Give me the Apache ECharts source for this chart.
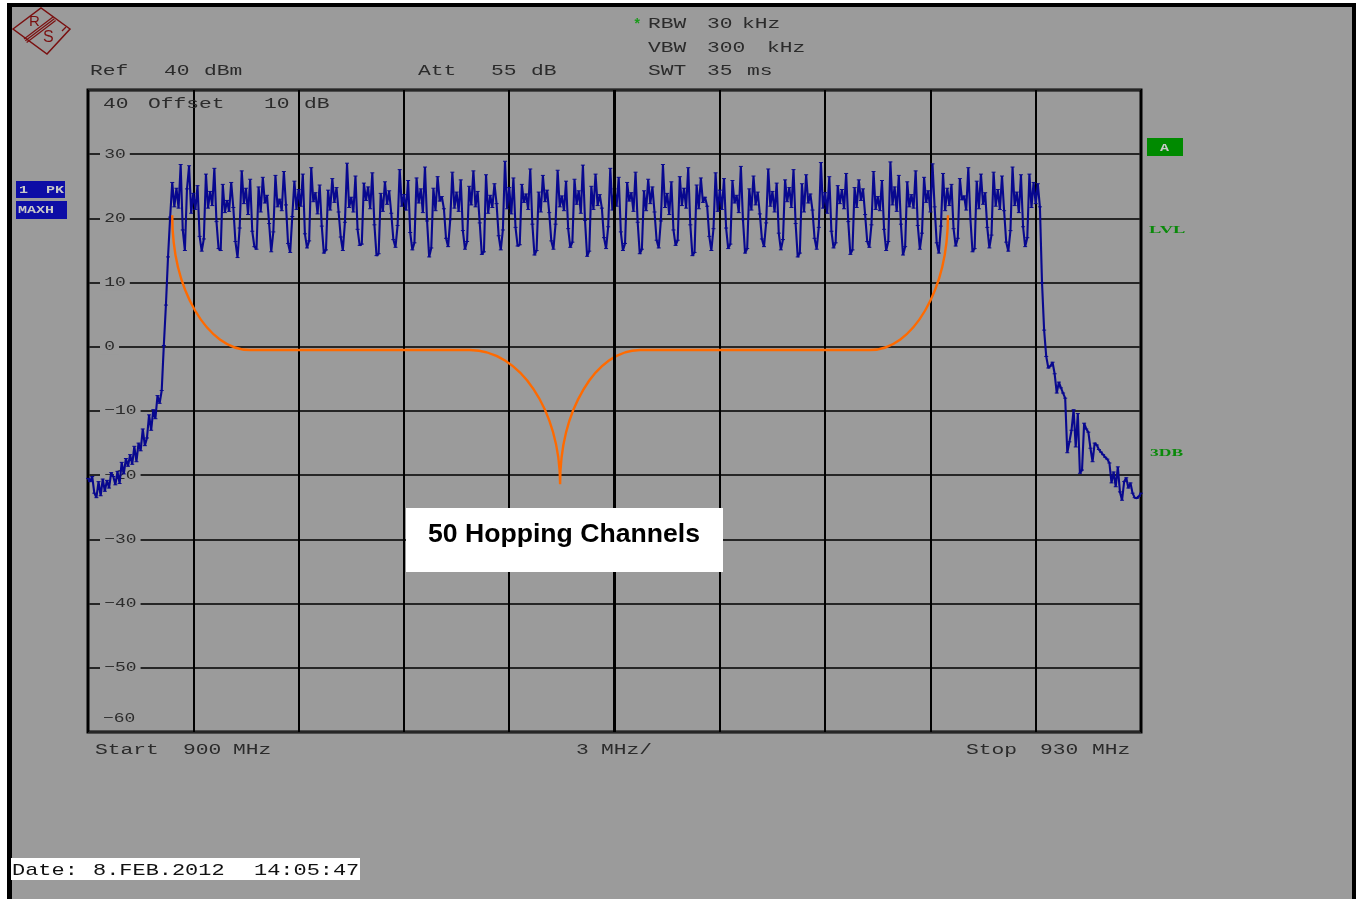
<!DOCTYPE html>
<html>
<head>
<meta charset="utf-8">
<script src="https://cdn.jsdelivr.net/npm/echarts@6/dist/echarts.min.js"></script>
<style>html,body{margin:0;padding:0;background:#fff;}#c{width:1360px;height:899px;}</style>
</head>
<body>
<div id="c"></div>
<script>
// ---- sweep definition ----
const START_MHZ = 900;
const STOP_MHZ = 930;
const DIV_MHZ = 3;
const REF_DBM = 40;
const BOTTOM_DBM = -60;
const DIV_DB = 10;
const CENTER_MHZ = 915;
const Y_TICKS = [30, 20, 10, 0, -10, -20, -30, -40, -50];

// ---- trace 1 (PK, MAXH) levels in dBm ----
const LEVEL_LOWER_SKIRT = [
  -20.5,-21.0,-20.2,-22.8,-23.5,-21.0,-23.2,-20.6,-22.5,-20.8,
  -22.0,-19.6,-20.2,-21.5,-19.4,-21.3,-18.0,-19.8,-17.4,-18.6,
  -16.8,-18.3,-15.5,-17.9,-15.0,-16.2,-12.8,-15.4,-14.2,-10.6,
  -13.0,-9.8,-11.2,-7.6,-8.8,-6.8,0.2,6.5,14.0,20.2,
  25.6
];
const LEVEL_HOP_BAND = [
  21.8, 24.7, 21.6, 28.4, 18.2, 15.0,
  24.6, 28.2, 20.8, 23.9, 21.4, 25.1, 17.2, 14.9,
  16.8, 26.9, 21.6, 24.2, 22.0, 27.8, 19.5, 15.3,
  15.0, 25.3, 20.9, 22.8, 21.1, 25.6, 21.7, 16.4, 13.9,
  18.5, 27.4, 22.3, 24.7, 20.6, 26.1, 18.0, 15.6,
  15.2, 24.9, 21.0, 26.4, 22.4, 23.6, 19.2, 14.8,
  17.9, 26.7, 21.8, 23.0, 21.2, 27.3, 22.1, 16.1, 14.7,
  20.3, 25.8, 21.4, 24.5, 21.9, 26.9, 17.6, 15.4,
  16.5, 27.9, 22.6, 24.0, 20.7, 25.2, 18.8, 14.6,
  15.1, 24.4, 21.3, 26.2, 22.5, 24.8, 21.0, 17.1, 15.0,
  19.4, 28.6, 21.7, 23.3, 21.0, 26.6, 18.3, 15.8,
  16.0, 25.5, 22.8, 24.9, 21.5, 27.1, 19.0, 14.2,
  14.5, 23.9, 21.1, 25.7, 22.2, 24.3, 20.8, 16.7, 15.5,
  18.9, 27.6, 21.9, 23.7, 21.3, 25.9, 17.8, 15.1,
  16.2, 26.3, 22.4, 24.6, 20.9, 28.0, 19.6, 14.0,
  15.4, 24.7, 21.2, 26.5, 22.7, 23.4, 21.5, 16.9, 15.6,
  19.8, 27.2, 21.6, 24.1, 21.1, 26.0, 18.1, 15.2,
  16.4, 25.0, 22.1, 27.4, 21.8, 24.2, 19.3, 14.4,
  14.8, 26.8, 20.8, 23.6, 21.7, 25.4, 22.3, 17.3, 15.1,
  18.2, 28.9, 21.5, 24.8, 20.7, 26.3, 18.6, 15.7,
  15.9, 25.3, 22.5, 23.8, 21.4, 27.7, 19.1, 14.3,
  15.0, 24.1, 21.0, 26.7, 22.6, 24.4, 20.9, 16.5, 15.2,
  19.1, 27.5, 21.8, 23.5, 21.2, 25.8, 18.4, 15.5,
  16.3, 26.1, 22.2, 24.3, 20.8, 28.3, 19.7, 14.1,
  14.9, 25.0, 21.4, 26.9, 22.0, 23.7, 21.6, 17.0, 15.3,
  18.7, 27.8, 21.3, 24.6, 21.9, 26.4, 17.9, 15.0,
  16.1, 25.6, 22.7, 24.0, 21.1, 27.2, 19.4, 14.5,
  15.2, 24.3, 21.2, 26.1, 22.3, 24.9, 21.0, 16.6, 15.4,
  19.6, 28.4, 21.7, 23.9, 20.6, 25.7, 18.2, 15.8,
  16.6, 26.5, 22.0, 24.7, 21.6, 27.9, 19.0, 14.2,
  14.7, 25.2, 21.5, 26.3, 22.5, 23.3, 21.9, 17.2, 15.0,
  18.4, 27.1, 21.1, 24.4, 21.4, 26.2, 18.5, 15.3,
  16.0, 25.9, 22.4, 23.6, 20.9, 28.1, 19.8, 14.6,
  15.3, 24.6, 21.3, 26.6, 22.1, 24.1, 20.7, 16.8, 15.6,
  19.3, 27.7, 21.9, 24.2, 21.0, 25.5, 17.7, 15.1,
  16.7, 26.0, 22.6, 24.8, 21.7, 27.6, 19.2, 14.0,
  14.6, 25.4, 21.0, 26.8, 22.4, 23.8, 21.3, 16.9, 15.2,
  18.6, 28.7, 21.6, 24.0, 20.8, 26.5, 18.0, 15.4,
  16.2, 25.1, 22.3, 24.5, 21.5, 27.0, 19.5, 14.4,
  15.1, 24.8, 21.7, 26.0, 22.8, 24.6, 20.6, 16.4, 15.5,
  19.0, 27.3, 21.4, 23.4, 21.2, 25.9, 18.3, 15.0,
  16.4, 28.8, 22.1, 24.9, 21.1, 26.7, 19.1, 14.3,
  15.6, 25.7, 21.8, 23.7, 21.6, 27.4, 18.9, 15.2,
  17.7, 26.4, 22.5, 24.3, 21.0, 28.5, 21.8, 16.2, 14.6,
  18.8, 27.0, 21.2, 24.7, 22.0, 25.3, 18.4, 15.7,
  16.9, 26.2, 22.9, 23.5, 21.3, 27.9, 19.9, 14.8,
  15.3, 25.8, 21.5, 26.9, 22.2, 24.0, 18.6, 15.4,
  17.4, 27.2, 21.9, 24.5, 21.4, 26.6, 21.2, 16.3, 14.9,
  18.1, 28.0, 22.0, 24.1, 20.9, 26.8, 18.7, 15.6,
  17.0, 26.9, 21.7, 25.6, 22.3, 25.4, 21.8
];
const LEVEL_UPPER_SKIRT = [
  10.0, 2.6, -1.5, -3.3, -3.0, -2.4, -4.2, -7.2, -5.5, -6.4,
  -7.2, -8.0, -16.5, -14.8, -13.0, -9.8, -15.6, -10.4, -19.7, -19.2,
  -11.9, -12.8, -13.3, -15.8, -17.9, -15.0, -15.3, -16.0, -16.4, -16.8,
  -17.2, -17.5, -18.1, -21.2, -19.5, -21.8, -18.7, -22.6, -23.9, -21.0,
  -20.4, -22.0, -21.2, -22.8, -23.5, -23.6, -23.3, -22.8
];

// ---- annotation brace anchor points (MHz, dBm) ----
const BRACE_MHZ = [902.4, 904.62, 910.88, 913.45, 915.73, 922.28, 924.5];
const BRACE_DBM = [20.5, -0.5, -0.5, -21.4, -0.5, -0.5, 20.5];
const ANNOTATION = '50 Hopping Channels';

const levels = LEVEL_LOWER_SKIRT.concat(LEVEL_HOP_BAND, LEVEL_UPPER_SKIRT);
const stepMHz = (STOP_MHZ - START_MHZ) / (levels.length - 1);
const trace = levels.map((v, i) => [START_MHZ + i * stepMHz, v]);

const MONO = "'Liberation Mono','DejaVu Sans Mono',monospace";
const GRAY = '#9b9b9b';
const INK = '#2b2b2b';

const chart = echarts.init(document.getElementById('c'), null, {renderer: 'canvas'});

function txt(str, x, y, o) {
  o = o || {};
  return {
    type: 'text', x: x, y: y, z: o.z != null ? o.z : 5, silent: true,
    scaleX: o.sx != null ? o.sx : 1.52,
    style: {
      text: str, x: 0, y: 0,
      fontSize: o.fs || 14, fontFamily: o.ff || MONO, fontWeight: o.fw || 'normal',
      fill: o.fill || INK, align: o.align || 'left', verticalAlign: 'middle',
      backgroundColor: o.bg, padding: o.pad
    }
  };
}

function bracePath(params, api) {
  const p = BRACE_MHZ.map((x, i) => api.coord([x, BRACE_DBM[i]]));
  const k = 0.5523;
  const f = n => n.toFixed(2);
  let d = 'M' + f(p[0][0]) + ' ' + f(p[0][1]);
  d += ' C' + f(p[0][0]) + ' ' + f(p[0][1] + k * (p[1][1] - p[0][1])) + ' ' +
       f(p[1][0] - k * (p[1][0] - p[0][0])) + ' ' + f(p[1][1]) + ' ' + f(p[1][0]) + ' ' + f(p[1][1]);
  d += ' L' + f(p[2][0]) + ' ' + f(p[2][1]);
  d += ' C' + f(p[2][0] + k * (p[3][0] - p[2][0])) + ' ' + f(p[2][1]) + ' ' +
       f(p[3][0]) + ' ' + f(p[3][1] - k * (p[3][1] - p[2][1])) + ' ' + f(p[3][0]) + ' ' + f(p[3][1]);
  d += ' C' + f(p[3][0]) + ' ' + f(p[3][1] - k * (p[3][1] - p[4][1])) + ' ' +
       f(p[4][0] - k * (p[4][0] - p[3][0])) + ' ' + f(p[4][1]) + ' ' + f(p[4][0]) + ' ' + f(p[4][1]);
  d += ' L' + f(p[5][0]) + ' ' + f(p[5][1]);
  d += ' C' + f(p[5][0] + k * (p[6][0] - p[5][0])) + ' ' + f(p[5][1]) + ' ' +
       f(p[6][0]) + ' ' + f(p[6][1] + k * (p[5][1] - p[6][1])) + ' ' + f(p[6][0]) + ' ' + f(p[6][1]);
  return {
    type: 'path', shape: {pathData: d},
    style: {stroke: '#ff6a00', lineWidth: 2.4, fill: 'none'}
  };
}

const option = {
  animation: false,
  backgroundColor: GRAY,
  grid: {left: 88, top: 90, width: 1053, height: 642, show: true,
         borderColor: '#000', borderWidth: 3, backgroundColor: 'transparent'},
  xAxis: {
    type: 'value', min: START_MHZ, max: STOP_MHZ, interval: DIV_MHZ,
    axisLine: {show: false}, axisTick: {show: false}, axisLabel: {show: false},
    splitLine: {show: true, lineStyle: {color: '#000', width: 2}}
  },
  yAxis: {
    type: 'value', min: BOTTOM_DBM, max: REF_DBM, interval: DIV_DB,
    axisLine: {show: false}, axisTick: {show: false}, axisLabel: {show: false},
    splitLine: {show: true, lineStyle: {color: '#262626', width: 2}}
  },
  series: [
    {
      type: 'line', data: [], z: 1, silent: true,
      markLine: {silent: true, symbol: 'none', label: {show: false},
        lineStyle: {color: '#000', width: 3, type: 'solid'},
        data: [{xAxis: CENTER_MHZ}]}
    },
    {
      name: 'Trace 1', type: 'line', data: trace, z: 3, silent: true,
      showSymbol: true, symbol: 'rect', symbolSize: [4, 1],
      itemStyle: {color: '#08088f'},
      lineStyle: {color: '#08088f', width: 2.1}
    },
    {
      type: 'custom', coordinateSystem: 'cartesian2d', z: 4, silent: true,
      data: [[BRACE_MHZ[0], BRACE_DBM[0]]], renderItem: bracePath, clip: false
    }
  ]
};
chart.setOption(option);

// ---- screen furniture ----
const g = [];
g.push({type: 'rect', z: 0, silent: true, shape: {x: 0, y: 0, width: 1360, height: 3}, style: {fill: '#fff'}});
g.push({type: 'rect', z: 0, silent: true, shape: {x: 0, y: 0, width: 7, height: 899}, style: {fill: '#fff'}});
g.push({type: 'rect', z: 0, silent: true, shape: {x: 1356, y: 0, width: 4, height: 899}, style: {fill: '#fff'}});
g.push({type: 'rect', z: 0, silent: true, shape: {x: 7, y: 3, width: 1349, height: 4}, style: {fill: '#000'}});
g.push({type: 'rect', z: 0, silent: true, shape: {x: 7, y: 3, width: 5, height: 896}, style: {fill: '#000'}});
g.push({type: 'rect', z: 0, silent: true, shape: {x: 1352, y: 3, width: 4, height: 896}, style: {fill: '#000'}});

// R&S logo
const LOGO = '#7a1010';
g.push({type: 'polygon', z: 5, silent: true,
  shape: {points: [[13, 29], [41, 8], [70, 29], [47, 54]]},
  style: {fill: 'none', stroke: LOGO, lineWidth: 1.5}});
g.push({type: 'line', z: 5, silent: true, shape: {x1: 62, y1: 31, x2: 66, y2: 27}, style: {stroke: LOGO, lineWidth: 1.3}});
[0, 2.2, 4.4].forEach((o) => {
  g.push({type: 'line', z: 5, silent: true,
    shape: {x1: 53 + o * 0.6, y1: 17 + o * 0.8, x2: 24 + o * 0.6, y2: 39 + o * 0.8},
    style: {stroke: LOGO, lineWidth: 1.2}});
});
g.push(txt('R', 29, 22, {sx: 1, fs: 15, ff: 'Liberation Sans', fill: LOGO}));
g.push(txt('S', 43, 38, {sx: 1, fs: 16, ff: 'Liberation Sans', fill: LOGO}));

// header settings
g.push(txt('*', 633, 25, {sx: 1, fs: 14, fill: '#1a9a1a', fw: 'bold'}));
[['RBW', 648, 24], ['30', 707, 24], ['kHz', 742, 24],
 ['VBW', 648, 48], ['300', 707, 48], ['kHz', 767, 48],
 ['SWT', 648, 71], ['35', 707, 71], ['ms', 747, 71],
 ['Ref', 90, 71], ['40', 164, 71], ['dBm', 204, 71],
 ['Att', 418, 71], ['55', 491, 71], ['dB', 531, 71],
 ['40', 103, 104], ['Offset', 148, 104], ['10', 264, 104], ['dB', 304, 104],
 ['Start', 95, 750], ['900', 183, 750], ['MHz', 233, 750],
 ['3', 576, 750], ['MHz/', 601, 750],
 ['Stop', 966, 750], ['930', 1040, 750], ['MHz', 1092, 750]
].forEach(t => g.push(txt(t[0], t[1], t[2])));

// trace info boxes
g.push({type: 'rect', z: 5, silent: true, shape: {x: 16, y: 181, width: 49, height: 17}, style: {fill: '#0d0da6'}});
g.push(txt('1  PK', 19, 190, {fs: 10, sx: 1.5, fill: '#c8c8c8', fw: 'bold', z: 6}));
g.push({type: 'rect', z: 5, silent: true, shape: {x: 16, y: 201, width: 51, height: 18}, style: {fill: '#0d0da6'}});
g.push(txt('MAXH', 18, 210, {fs: 10, sx: 1.5, fill: '#c8c8c8', fw: 'bold', z: 6}));
g.push({type: 'rect', z: 5, silent: true, shape: {x: 1147, y: 138, width: 36, height: 18}, style: {fill: '#008a00'}});
g.push(txt('A', 1160, 148, {fs: 10, sx: 1.5, fill: '#c8c8c8', fw: 'bold', z: 6}));
g.push(txt('LVL', 1149, 230, {fs: 10, sx: 1.85, fill: '#0a8a0a', fw: 'bold', ff: 'Liberation Serif'}));
g.push(txt('3DB', 1150, 453, {fs: 10, sx: 1.75, fill: '#0a8a0a', fw: 'bold', ff: 'Liberation Serif'}));

// date box
g.push({type: 'rect', z: 5, silent: true, shape: {x: 11, y: 858, width: 349, height: 22}, style: {fill: '#fff'}});
[['Date:', 12], ['8.FEB.2012', 93], ['14:05:47', 254]].forEach(t =>
  g.push(txt(t[0], t[1], 870, {fs: 17, sx: 1.29, fill: '#111', z: 6})));

// y-axis level labels, placed through the axis scale
Y_TICKS.forEach(v => {
  const py = chart.convertToPixel({yAxisIndex: 0}, v);
  g.push(txt(v < 0 ? '\u2212' + Math.abs(v) : String(v), 100, py,
    {fs: 13, sx: 1.38, bg: GRAY, pad: [1, 3, 1, 3], z: 1}));
});
g.push(txt('\u221260', 103, 719, {fs: 13, sx: 1.38, z: 1}));

// annotation box
g.push({type: 'rect', z: 20, silent: true, shape: {x: 406, y: 508, width: 317, height: 64}, style: {fill: '#fff'}});
g.push({type: 'text', z: 21, silent: true, x: 564, y: 535,
  style: {text: ANNOTATION, fontSize: 26.6, fontWeight: 'bold', fontFamily: "'Liberation Sans',Arial,sans-serif",
          fill: '#000', align: 'center', verticalAlign: 'middle'}});

chart.setOption({graphic: {elements: g}});
</script>
</body>
</html>
